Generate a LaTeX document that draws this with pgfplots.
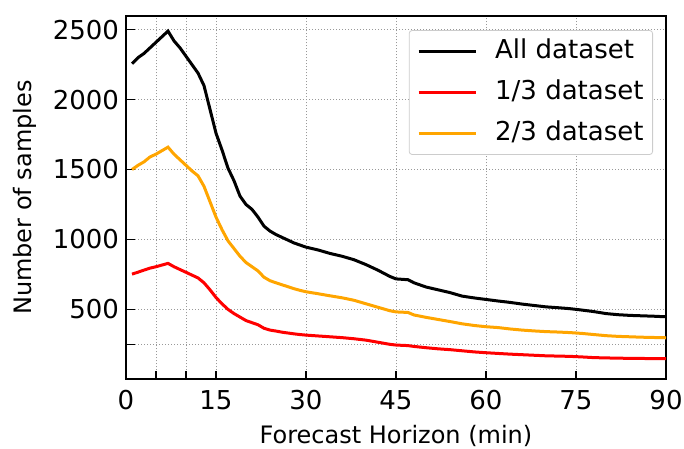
\documentclass[border=0pt]{standalone}
\usepackage{fontspec}
\setmainfont{DejaVu Sans}
\usepackage{pgfplots}
\pgfplotsset{compat=1.18}

\definecolor{lineorange}{HTML}{FFA500}
\definecolor{linered}{HTML}{FF0000}

\begin{document}
\begin{tikzpicture}
    \begin{axis}[
            scale only axis,
            width=270pt,
            height=181.8pt,
            xmin=0, xmax=90,
            ymin=0, ymax=2600,
            xtick={0,5,10,15,30,45,60,75,90},
            xticklabels={0,,,15,30,45,60,75,90},
            ytick={250,500,1000,1500,2000,2500},
            yticklabels={,500,1000,1500,2000,2500},
            tick pos=left,
            tick align=inside,
            major tick length=4.4pt,
            every tick/.style={black, line width=0.8pt},
            axis line style={line width=1pt},
            grid=major,
            major grid style={gray!80, line width=0.5pt, dash pattern=on 0.5pt off 1pt},
            /pgf/number format/assume math mode=true,
            tick label style={font=\fontsize{13}{15}\selectfont},
            xticklabel style={anchor=base, yshift=-15pt},
            xlabel={Forecast Horizon (min)},
            ylabel={Number of samples},
            every axis x label/.style={at={(rel axis cs:0.5,0)}, anchor=base, yshift=-32.3pt,
                    font=\fontsize{12}{14}\selectfont},
            every axis y label/.style={at={(rel axis cs:0,0.5)}, xshift=-50.5pt, rotate=90, anchor=center,
                    font=\fontsize{12}{14}\selectfont},
            legend cell align=left,
            legend style={
                    at={(rel axis cs:1,1)},
                    anchor=north east,
                    xshift=-6.5pt, yshift=-7.2pt,
                    draw=black!20,
                    rounded corners=1.5pt,
                    font=\fontsize{13}{15}\selectfont,
                    inner sep=4pt,
                    row sep=7.5pt,
                    column sep=8.5pt,
                    nodes={inner sep=0.5pt, text height=9.5pt, text depth=2.5pt},
                },
            legend image code/.code={\draw[#1] (0pt,0pt) -- (28.5pt,0pt);},
        ]
        % All dataset
        \addplot[black, line width=1.5pt] coordinates {
                (1,2257) (2,2300) (3,2330) (4,2370) (5,2410) (6,2450) (7,2490)
                (8,2420) (9,2370) (10,2310) (11,2250) (12,2190) (13,2100) (14,1930)
                (15,1760) (16,1640) (17,1510) (18,1420) (19,1310) (20,1250)
                (21,1215) (22,1160) (23,1095) (24,1060) (25,1035) (26,1015)
                (27,995) (28,975) (29,960) (30,945) (32,925) (34,900) (36,880)
                (38,855) (40,820) (42,780) (44,735) (45,718) (47,712) (48,690)
                (50,660) (52,640) (54,620) (56,595) (58,582) (60,571) (62,560)
                (64,550) (66,538) (68,528) (70,518) (72,512) (74,505) (76,495)
                (78,484) (80,470) (82,462) (84,457) (86,454) (88,451) (90,447)
            };
        % 1/3 dataset
        \addplot[linered, line width=1.5pt] coordinates {
                (1,752) (2,766) (3,781) (4,795) (5,805) (6,817) (7,829)
                (8,805) (9,785) (10,765) (11,745) (12,725) (13,690) (14,640)
                (15,585) (16,540) (17,500) (18,470) (19,445) (20,420)
                (21,405) (22,390) (23,365) (24,352) (25,345) (26,337)
                (27,331) (28,325) (29,320) (30,316) (32,310) (34,304) (36,298)
                (38,290) (40,280) (42,265) (44,250) (45,245) (47,241) (48,235)
                (50,226) (52,218) (54,212) (56,204) (58,196) (60,190) (62,185)
                (64,180) (66,176) (68,172) (70,168) (72,166) (74,164) (76,160)
                (78,155) (80,153) (82,151) (84,150) (86,149) (88,148) (90,147)
            };
        % 2/3 dataset
        \addplot[lineorange, line width=1.5pt] coordinates {
                (1,1500) (2,1530) (3,1555) (4,1590) (5,1610) (6,1635) (7,1660)
                (8,1610) (9,1570) (10,1530) (11,1490) (12,1455) (13,1380) (14,1270)
                (15,1160) (16,1070) (17,990) (18,935) (19,880) (20,835)
                (21,805) (22,775) (23,730) (24,705) (25,690) (26,676)
                (27,662) (28,648) (29,636) (30,626) (32,612) (34,597) (36,583)
                (38,565) (40,540) (42,515) (44,490) (45,482) (47,478) (48,460)
                (50,443) (52,428) (54,413) (56,397) (58,385) (60,376) (62,370)
                (64,360) (66,352) (68,346) (70,341) (72,338) (74,334) (76,328)
                (78,320) (80,312) (82,307) (84,304) (86,301) (88,299) (90,297)
            };
        \legend{All dataset, 1/3 dataset, 2/3 dataset}
    \end{axis}
    % page frame as in the reference: margins round the axis
    \pgfresetboundingbox
    \path ([xshift=-63pt,yshift=-34.35pt]current axis.south west)
        rectangle ([xshift=9pt,yshift=7.85pt]current axis.north east);
\end{tikzpicture}
\end{document}
